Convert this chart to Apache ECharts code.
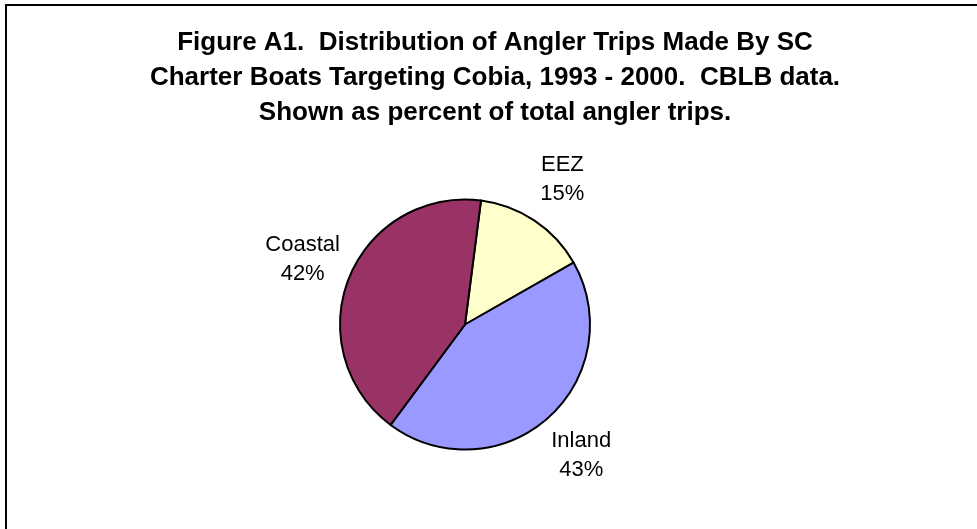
<!DOCTYPE html>
<html>
<head>
<meta charset="utf-8">
<script src="https://cdn.jsdelivr.net/npm/echarts@6/dist/echarts.min.js"></script>
<style>
  html, body { margin: 0; padding: 0; background: #fff; }
  #chart { width: 977px; height: 529px; }
</style>
</head>
<body>
<div id="chart"></div>
<script>
const titleText = "Figure A1.  Distribution of Angler Trips Made By SC\nCharter Boats Targeting Cobia, 1993 - 2000.  CBLB data.\nShown as percent of total angler trips.";
const categories = ["EEZ", "Inland", "Coastal"];
const shares = [14.7, 43.4, 41.9];
const colors = ["#FFFFCC", "#9999FF", "#993366"];

const myChart = echarts.init(document.getElementById("chart"));
myChart.setOption({
  backgroundColor: "#fff",
  animation: false,
  title: {
    text: titleText,
    left: 490,
    top: 20,
    textAlign: "center",
    textStyle: {
      fontFamily: "Liberation Sans, Arial",
      fontSize: 26,
      fontWeight: "bold",
      color: "#000",
      lineHeight: 35
    }
  },
  graphic: [
    // frame, only top and left edges show in the original
    { type: "line", shape: { x1: 5, y1: 5, x2: 977, y2: 5 }, style: { stroke: "#000", lineWidth: 2 } },
    { type: "line", shape: { x1: 6, y1: 4, x2: 6, y2: 529 }, style: { stroke: "#000", lineWidth: 2 } }
  ],
  series: [
    {
      type: "pie",
      center: [465, 324.5],
      radius: 125,
      startAngle: 82.65,
      clockwise: true,
      avoidLabelOverlap: false,
      percentPrecision: 0,
      itemStyle: { borderColor: "#000", borderWidth: 2 },
      label: {
        show: true,
        position: "outside",
        formatter: "{b}\n{d}%",
        fontFamily: "Liberation Sans, Arial",
        fontSize: 22,
        lineHeight: 29,
        color: "#000",
        distanceToLabelLine: 0
      },
      labelLine: { show: false, length: 50, length2: 0 },
      labelLayout: function (params) {
        // keep the spot ECharts picked, but centre the text block on it
        const r = params.labelRect;
        const ax = params.align === "right" ? r.x + r.width : r.x;
        return { x: ax, y: r.y + r.height / 2, align: "center", verticalAlign: "middle" };
      },
      emphasis: { disabled: true },
      data: categories.map(function (name, i) {
        return { name: name, value: shares[i], itemStyle: { color: colors[i] } };
      })
    }
  ]
});
window.addEventListener("resize", function () {
  myChart.resize();
});
</script>
</body>
</html>
